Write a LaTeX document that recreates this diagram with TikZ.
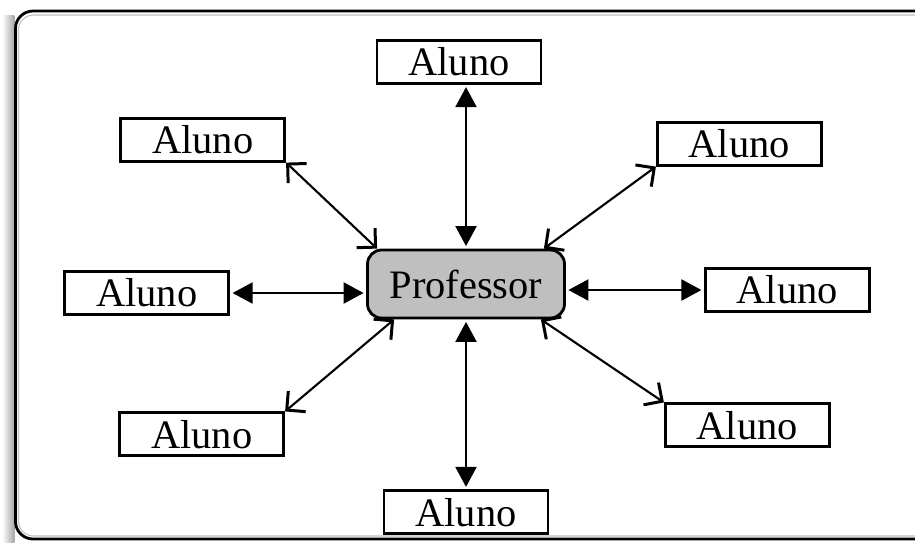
\documentclass[tikz,border=0pt]{standalone}
\usepackage{fontspec}
\setmainfont{Liberation Serif}
\usepackage{tikz}
\usetikzlibrary{
  arrows.meta, positioning, calc
}
\tikzset{
  aluno/.style={
    rectangle, draw=black, line width=1.6pt,
    fill=white, inner sep=0pt,
    minimum width=3.28cm, minimum height=0.86cm,
    align=center, font=\fontsize{23}{27}\selectfont
  },
  prof/.style={
    rectangle, rounded corners=8pt, draw=black, line width=1.6pt,
    fill=black!25, inner sep=0pt,
    minimum width=3.94cm, minimum height=1.36cm,
    align=center, font=\fontsize{23}{27}\selectfont
  },
  darrow/.style={
    {Triangle[length=0.4cm,width=0.42cm]}-{Triangle[length=0.4cm,width=0.42cm]},
    line width=1.2pt, shorten <=0.05cm, shorten >=0.05cm
  },
  barrow/.style={
    {Straight Barb[angle=90:0.38cm, line width=1.7pt]}-{Straight Barb[angle=90:0.38cm, line width=1.7pt]},
    line width=1.2pt
  },
  frame/.style={draw=black, line width=1.6pt, rounded corners=0.35cm}
}

\begin{document}
\begin{tikzpicture}[node distance=1.5cm]
  \useasboundingbox (0,0) rectangle (18.3,-10.84);
  \clip (0,0) rectangle (18.3,-10.84);

  % moldura
  \shade[left color=white, right color=black!35] (0.04,-0.3) rectangle (0.29,-10.84);
  \draw[frame] (0.31,-0.22) rectangle (18.7,-10.78);
  \draw[black!25, line width=0.6pt, rounded corners=0.3cm] (0.37,-0.3) rectangle (18.64,-10.72);

  % professor no centro
  \node[prof] (prof) at (9.32,-5.68) {Professor};

  % alunos
  \node[aluno, above=3.28cm of prof, xshift=-0.14cm] (top) {Aluno};
  \node[aluno, below=3.4cm of prof] (bottom) {Aluno};
  \node[aluno, left=2.72cm of prof, yshift=-0.18cm] (left) {Aluno};
  \node[aluno, right=2.76cm of prof, yshift=-0.12cm] (right) {Aluno};
  \node[aluno, above left=1.72cm and 1.6cm of prof] (ul) {Aluno};
  \node[aluno, above right=1.64cm and 1.8cm of prof] (ur) {Aluno};
  \node[aluno, below left=1.84cm and 1.62cm of prof] (ll) {Aluno};
  \node[aluno, below right=1.66cm and 1.96cm of prof] (lr) {Aluno};

  % ligacoes
  \draw[darrow] (top.south -| prof.north) -- (prof.north);
  \draw[darrow] (prof.south) -- (prof.south |- bottom.north);
  \draw[darrow] (left.east) -- (left.east -| prof.west);
  \draw[darrow] (prof.east |- right.west) -- (right.west);
  \draw[barrow] (ul.south east) -- ([xshift=0.22cm]prof.north west);
  \draw[barrow] (ur.south west) -- ([xshift=-0.44cm]prof.north east);
  \draw[barrow] (ll.north east) -- ([xshift=0.56cm]prof.south west);
  \draw[barrow] (lr.north west) -- ([xshift=-0.5cm]prof.south east);
\end{tikzpicture}
\end{document}
